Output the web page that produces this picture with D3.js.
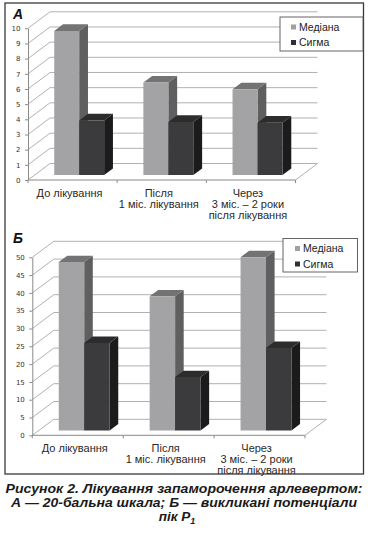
<!DOCTYPE html>
<html><head><meta charset="utf-8">
<script src="https://cdn.jsdelivr.net/npm/d3@7"></script>
<style>html,body{margin:0;padding:0;background:#fff;} svg{display:block;}</style>
</head><body>
<script>
// ---- data ----
const categoryLines = [["До лікування"], ["Після", "1 міс. лікування"], ["Через", "3 міс. – 2 роки", "після лікування"]];
const categories = categoryLines.map(l => l.join(" "));
const seriesNames = ["Медіана", "Сигма"];
const medianA = [9.5, 6.1, 5.65];
const sigmaA = [3.6, 3.5, 3.45];
const medianB = [47.3, 37.7, 48.7];
const sigmaB = [24.6, 15.0, 23.2];
const ticksA = [0, 1, 2, 3, 4, 5, 6, 7, 8, 9, 10];
const ticksB = [0, 5, 10, 15, 20, 25, 30, 35, 40, 45, 50];
const panelLetters = ["А", "Б"];
const captionLines = ["Рисунок 2. Лікування запаморочення арлевертом:", "А — 20-бальна шкала; Б — викликані потенціали", "пік P"];
const captionSub = "1";

// ---- styling ----
const faceColors = {
  "Медіана": {front: "#a3a3a5", top: "#737373", side: "#5f5f5f", legend: "#a0a0a0"},
  "Сигма": {front: "#3b3b3d", top: "#2c2c2c", side: "#1b1b1b", legend: "#303030"}
};
const gridColor = "#a8a8a8";

const svg = d3.select("body").append("svg").attr("width", 368).attr("height", 536);

// frame
svg.append("rect").attr("x", 5).attr("y", 3).attr("width", 358.5).attr("height", 471)
  .attr("fill", "none").attr("stroke", "#3a3a3a").attr("stroke-width", 1.3);

function drawPanel(p, med, sig, ticks, letter) {
  const g = svg.append("g");
  const x = d3.scaleBand().domain(categories).range([p.x0, p.x1]);
  const xs = d3.scaleBand().domain(seriesNames).range([0, x.bandwidth()]).paddingInner(0).paddingOuter(0.786);
  const y = d3.scaleLinear().domain([0, d3.max(ticks)]).range([p.y0, p.yTop]);
  const proj = (px, py, d) => [px + d * p.dx, py + d * p.dy];
  const line = d3.line();

  // back wall gridlines & side wall diagonals
  ticks.forEach(v => {
    g.append("path").attr("d", line([proj(p.x0, y(v), 1), proj(p.x1, y(v), 1)]))
      .attr("stroke", gridColor).attr("stroke-width", 0.9).attr("fill", "none");
    g.append("path").attr("d", line([[p.x0, y(v)], proj(p.x0, y(v), 1)]))
      .attr("stroke", gridColor).attr("stroke-width", 0.9).attr("fill", "none");
  });
  // floor right edge
  g.append("path").attr("d", line([[p.x1, p.y0], proj(p.x1, p.y0, 1)]))
    .attr("stroke", gridColor).attr("stroke-width", 0.9).attr("fill", "none");

  // bars
  const dF = 0.3, dB = 0.7;
  const rows = categories.map((c, i) => ({c, vals: [med[i], sig[i]]}));
  rows.forEach(r => {
    seriesNames.forEach((s, si) => {
      const v = r.vals[si];
      const xl = x(r.c) + xs(s), xr = xl + xs.bandwidth();
      const yv = y(v), yb = y(0);
      const col = faceColors[s];
      const f = [proj(xl, yv, dF), proj(xr, yv, dF), proj(xr, yb, dF), proj(xl, yb, dF)];
      const side = [proj(xr, yv, dF), proj(xr, yv, dB), proj(xr, yb, dB), proj(xr, yb, dF)];
      const top = [proj(xl, yv, dF), proj(xl, yv, dB), proj(xr, yv, dB), proj(xr, yv, dF)];
      g.append("path").attr("d", line(side) + "Z").attr("fill", col.side);
      g.append("path").attr("d", line(top) + "Z").attr("fill", col.top);
      g.append("path").attr("d", line(f) + "Z").attr("fill", col.front);
    });
  });

  // y axis (front)
  const ax = g.append("g").attr("transform", `translate(${p.x0},0)`)
    .call(d3.axisLeft(y).tickValues(ticks).tickSize(3).tickSizeOuter(0).tickPadding(4.5));
  ax.select(".domain").attr("stroke", "#8a8a8a");
  ax.selectAll(".tick line").attr("stroke", "#8a8a8a");
  ax.selectAll(".tick text").attr("fill", "#333").style("font-family", "'DejaVu Sans', sans-serif").style("font-size", "7px");

  // x axis (front floor edge)
  g.append("path").attr("d", line([[p.x0, p.y0], [p.x1, p.y0]])).attr("stroke", "#8a8a8a").attr("stroke-width", 1).attr("fill", "none");
  const bounds = categories.map(c => x(c)).concat([p.x1]);
  bounds.forEach(b => {
    g.append("path").attr("d", line([[b, p.y0], [b, p.y0 + 3]])).attr("stroke", "#8a8a8a").attr("fill", "none");
  });

  // category labels
  categoryLines.forEach((lines, i) => {
    const cx = x(categories[i]) + x.bandwidth() / 2 - 3;
    lines.forEach((t, li) => {
      g.append("text").attr("x", cx).attr("y", p.y0 + 17 + li * 11)
        .attr("text-anchor", "middle").attr("fill", "#2a2a2a")
        .style("font-family", "'Liberation Sans', Arial, sans-serif").style("font-size", "11px").text(t);
    });
  });

  // legend
  const L = p.legend;
  g.append("rect").attr("x", L.x).attr("y", L.y).attr("width", L.w).attr("height", L.h)
    .attr("fill", "#fff").attr("stroke", "#555").attr("stroke-width", 0.9);
  seriesNames.forEach((s, si) => {
    const cy = L.y + 10 + si * 15.5;
    g.append("rect").attr("x", L.mx).attr("y", cy - 2.5).attr("width", 5).attr("height", 5).attr("fill", faceColors[s].legend);
    g.append("text").attr("x", L.mx + 8).attr("y", cy + 3.8).attr("fill", "#222")
      .style("font-family", "'Liberation Sans', Arial, sans-serif").style("font-size", "10.5px").text(s);
  });

  // panel letter
  g.append("text").attr("x", 13).attr("y", p.letterY).attr("fill", "#111")
    .style("font-family", "'Liberation Sans', Arial, sans-serif").style("font-size", "14px")
    .style("font-weight", "bold").style("font-style", "italic").text(letter);
}

drawPanel({x0: 28, x1: 295.5, y0: 180, yTop: 28.3, dx: 22, dy: -16.5, letterY: 18.5,
  legend: {x: 280, y: 17, w: 83, h: 34, mx: 291}}, medianA, sigmaA, ticksA, panelLetters[0]);
drawPanel({x0: 32.3, x1: 305, y0: 435.3, yTop: 257.3, dx: 21.5, dy: -16, letterY: 243,
  legend: {x: 283, y: 238.5, w: 74.5, h: 33.5, mx: 295}}, medianB, sigmaB, ticksB, panelLetters[1]);

// caption
const cap = svg.append("g").attr("fill", "#1a1a1a")
  .style("font-family", "'Liberation Sans', Arial, sans-serif").style("font-size", "13.5px")
  .style("font-weight", "bold").style("font-style", "italic");
cap.append("text").attr("x", 184).attr("y", 493).attr("text-anchor", "middle")
  .attr("textLength", 357).attr("lengthAdjust", "spacingAndGlyphs").text(captionLines[0]);
cap.append("text").attr("x", 184).attr("y", 507).attr("text-anchor", "middle")
  .attr("textLength", 346).attr("lengthAdjust", "spacingAndGlyphs").text(captionLines[1]);
const t3 = cap.append("text").attr("x", 177).attr("y", 521).attr("text-anchor", "middle");
t3.append("tspan").text(captionLines[2]);
t3.append("tspan").attr("dy", 3).style("font-size", "9px").text(captionSub);
</script>
</body></html>
